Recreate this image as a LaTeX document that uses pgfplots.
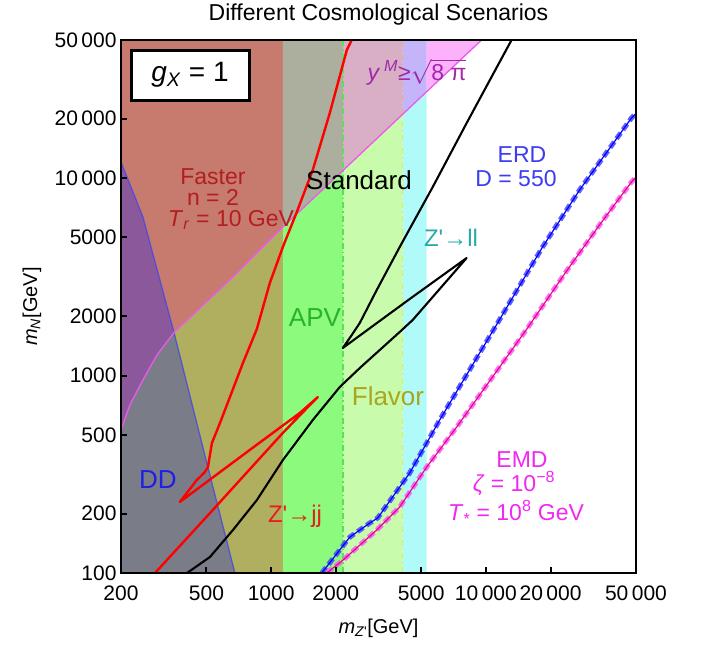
\documentclass[border=0pt]{standalone}
\usepackage{pgfplots}
\pgfplotsset{compat=1.18}
\usepackage{fontspec}
\setmainfont{Liberation Sans}
\definecolor{cA}{RGB}{199,123,111}
\definecolor{cB}{RGB}{139,89,155}
\definecolor{cC}{RGB}{122,125,136}
\definecolor{cD}{RGB}{176,174,95}
\definecolor{cE}{RGB}{172,174,158}
\definecolor{cF}{RGB}{140,250,125}
\definecolor{cG}{RGB}{216,175,196}
\definecolor{cH}{RGB}{200,252,172}
\definecolor{cI}{RGB}{196,180,250}
\definecolor{cJ}{RGB}{176,250,250}
\definecolor{cK}{RGB}{252,178,250}
\definecolor{ddblue}{RGB}{70,70,230}
\definecolor{ymag}{RGB}{235,90,235}
\definecolor{tFaster}{RGB}{180,30,30}
\definecolor{tAPV}{RGB}{40,180,40}
\definecolor{tFlavor}{RGB}{170,165,30}
\definecolor{tjj}{RGB}{230,30,30}
\definecolor{tDD}{RGB}{30,30,230}
\definecolor{tll}{RGB}{40,170,170}
\definecolor{tERD}{RGB}{60,60,240}
\definecolor{tEMD}{RGB}{240,40,240}
\definecolor{tyM}{RGB}{160,40,170}
\definecolor{erdL}{RGB}{70,70,250}
\definecolor{emdL}{RGB}{245,90,245}
\begin{document}
\begin{tikzpicture}
\useasboundingbox (0,0) rectangle (705pt,648pt);
\begin{axis}[
  at={(121pt,75pt)}, anchor=south west,
  scale only axis, width=515pt, height=533pt,
  xmode=log, ymode=log,
  xmin=200, xmax=50000, ymin=100, ymax=50000,
  xtick={200,500,1000,2000,5000,10000,20000,50000},
  xticklabels={200,500,1000,2000,5000,10\,000,20\,000,50\,000},
  ytick={100,200,500,1000,2000,5000,10000,20000,50000},
  yticklabels={100,200,500,1000,2000,5000,10\,000,20\,000,50\,000},
  minor xtick={}, minor ytick={},
  tick align=inside, xtick pos=bottom, ytick pos=left,
  major tick length=6pt,
  tick style={line width=2pt, black},
  axis line style={line width=2.5pt},
  ticklabel style={font=\fontsize{21}{24}\selectfont},
  xticklabel style={yshift=-9pt},
  yticklabel style={xshift=-1pt},
  axis on top,
  xlabel={\textit{m}\textsubscript{\textit{Z}\textquotesingle}[GeV]},
  ylabel={\textit{m}\textsubscript{\textit{N}}[GeV]},
  label style={font=\fontsize{20}{24}\selectfont},
  xlabel style={at={(axis description cs:0.5,-0.1032)}, anchor=center},
  ylabel style={at={(axis description cs:-0.1728,0.5)}, anchor=center},
  every axis title shift=0pt,
  title={Different Cosmological Scenarios},
  title style={at={(axis description cs:0.5,1.0469)}, anchor=center, font=\fontsize{23}{28}\selectfont},
]
% vertical bands
\addplot[fill=cD, draw=none] coordinates {(200,100) (1134,100) (1134,50000) (200,50000) (200,100)};
\addplot[fill=cF, draw=none] coordinates {(1134,100) (2160,100) (2160,50000) (1134,50000) (1134,100)};
\addplot[fill=cH, draw=none] coordinates {(2160,100) (4100,100) (4100,50000) (2160,50000) (2160,100)};
\addplot[fill=cJ, draw=none] coordinates {(4100,100) (5300,100) (5300,50000) (4100,50000) (4100,100)};
% above the y^M curve
\addplot[fill=cA, draw=none] coordinates {(200,530) (220,709) (253,949) (294,1270) (353,1650) (664,3153) (1134,5649) (1134,50000) (200,50000) (200,530)};
\addplot[fill=cE, draw=none] coordinates {(1134,5649) (2160,10920) (2160,50000) (1134,50000) (1134,5649)};
\addplot[fill=cG, draw=none] coordinates {(2160,10920) (4100,21050) (4100,50000) (2160,50000) (2160,10920)};
\addplot[fill=cI, draw=none] coordinates {(4100,21050) (5300,27370) (5300,50000) (4100,50000) (4100,21050)};
\addplot[fill=cK, draw=none] coordinates {(5300,27370) (9551,50000) (5300,50000) (5300,27370)};
% DD region
\addplot[fill=cB, draw=none] coordinates {(200,530) (220,709) (253,949) (294,1270) (353,1650) (253,6347) (200,12050) (200,530)};
\addplot[fill=cC, draw=none] coordinates {(200,100) (678,100) (502,360) (353,1650) (294,1270) (253,949) (220,709) (200,530) (200,100)};
% band boundaries
\addplot[color={rgb,255:red,90;green,225;blue,90}, line width=1.2pt, dash pattern=on 6pt off 3pt on 1.5pt off 3pt] coordinates {(2160,100) (2160,50000)};
\addplot[color={rgb,255:red,235;green,235;blue,70}, line width=1.2pt, dash pattern=on 6pt off 3pt on 1.5pt off 3pt] coordinates {(4100,100) (4100,21050)};
\addplot[color={rgb,255:red,235;green,175;blue,120}, line width=1.2pt, dash pattern=on 6pt off 3pt on 1.5pt off 3pt] coordinates {(4100,21050) (4100,50000)};
% boundary lines
\addplot[color=ddblue, line width=1.3pt, opacity=0.8] coordinates {(200,12050) (253,6347) (353,1650) (502,360) (678,100)};
\addplot[color=ymag, line width=1.3pt] coordinates {(200,530) (220,709) (253,949) (294,1270) (353,1650) (664,3153) (1134,5649) (9551,50000)};
% Z' -> jj contour
\addplot[color=red, line width=2.4pt, line join=round] coordinates {(2374,50000) (2251,44460) (1876,21340) (1563,10980) (1317,6730) (1134,4473) (986,2940) (858,1719) (739,1157) (643,778) (578,575) (530,455) (508,344) (492,325) (466,306) (451,296) (376,229) (796,420) (1360,646) (1650,778) (1563,734) (1134,512) (731,303) (519,201) (288,100)};
% Standard / Z' -> ll contour
\addplot[color=black, line width=2.1pt, line join=round] coordinates {(406,100) (519,120.5) (664,165) (858,234) (1134,373) (1563,595) (2087,874) (2587,1091) (3970,1661) (4561,1910) (8135,3936) (4418,2440) (2156,1378) (2374,1603) (2587,1845) (3103,2710) (3970,4473) (5653,8998) (8135,18980) (11585,38670) (13170,50000)};
% ERD
\addplot[color=erdL, line width=5pt, opacity=0.85, dash pattern=on 7pt off 4pt] coordinates {(1722,100) (2324,152) (2878,179) (3136,190) (3683,243) (4418,321) (5301,455) (6091,595) (10980,1740) (18360,4473) (27290,8690) (47620,20130) (50000,21200)};
\addplot[color=blue, line width=1.2pt] coordinates {(1722,100) (2324,152) (2878,179) (3136,190) (3683,243) (4418,321) (5301,455) (6091,595) (10980,1740) (18360,4473) (27290,8690) (47620,20130) (50000,21200)};
% EMD
\addplot[color=emdL, line width=5pt, opacity=0.85, dash pattern=on 7pt off 4pt] coordinates {(1817,100) (2156,116) (3103,165) (3970,216) (5301,344) (7310,548) (15630,1740) (23740,3381) (33800,5781) (47620,9550) (50000,10100)};
\addplot[color=magenta, line width=1.2pt] coordinates {(1817,100) (2156,116) (3103,165) (3970,216) (5301,344) (7310,548) (15630,1740) (23740,3381) (33800,5781) (47620,9550) (50000,10100)};
% labels
\node[color=tFaster, font=\fontsize{23}{24}\selectfont] at (rel axis cs:0.1786,0.7430) {Faster};
\node[color=tFaster, font=\fontsize{23}{24}\selectfont] at (rel axis cs:0.1786,0.7036) {n = 2};
\node[color=tFaster, font=\fontsize{23}{24}\selectfont] at (rel axis cs:0.2136,0.6623) {\textit{T}\textsubscript{\textit{r}} = 10 GeV};
\node[color=black, font=\fontsize{26}{28}\selectfont] at (rel axis cs:0.4621,0.7373) {Standard};
\node[color=tAPV, font=\fontsize{26}{28}\selectfont] at (rel axis cs:0.3767,0.4784) {APV};
\node[color=tFlavor, font=\fontsize{26}{28}\selectfont] at (rel axis cs:0.5184,0.3321) {Flavor};
\node[color=tjj, font=\fontsize{24}{28}\selectfont] at (rel axis cs:0.3379,0.1069) {Z\textquotesingle→jj};
\node[color=tDD, font=\fontsize{26}{28}\selectfont] at (rel axis cs:0.0718,0.1745) {DD};
\node[color=tll, font=\fontsize{24}{28}\selectfont] at (rel axis cs:0.6408,0.6285) {Z\textquotesingle→ll};
\node[color=tERD, font=\fontsize{23}{24}\selectfont] at (rel axis cs:0.7786,0.7842) {ERD};
\node[color=tERD, font=\fontsize{23}{24}\selectfont] at (rel axis cs:0.7670,0.7402) {D = 550};
\node[color=tEMD, font=\fontsize{23}{24}\selectfont] at (rel axis cs:0.7786,0.2120) {EMD};
\node[color=tEMD, font=\fontsize{23}{24}\selectfont] at (rel axis cs:0.7631,0.1689) {\textit{ζ} = 10\textsuperscript{−8}};
\node[color=tEMD, font=\fontsize{23}{24}\selectfont] at (rel axis cs:0.7670,0.1144) {\textit{T}\textsubscript{*} = 10\textsuperscript{8} GeV};
\node[color=tyM, font=\fontsize{23}{24}\selectfont] at (rel axis cs:0.5748,0.9400) {\textit{y}\,\textsuperscript{\textit{M}}≥$\sqrt{\mbox{8 π}}$};
\node[draw=black, line width=3pt, fill=white, minimum width=118pt, minimum height=50pt, font=\fontsize{28}{30}\selectfont] at (rel axis cs:0.1340,0.9343) {\textit{g}\textsubscript{\textit{X}} = 1};
\end{axis}
\end{tikzpicture}
\end{document}
